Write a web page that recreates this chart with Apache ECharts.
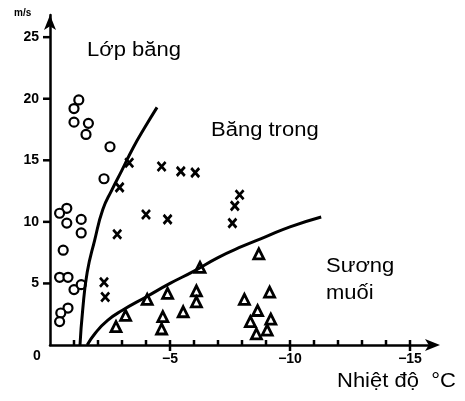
<!DOCTYPE html>
<html>
<head>
<meta charset="utf-8">
<script src="https://cdn.jsdelivr.net/npm/echarts@6/dist/echarts.min.js"></script>
<style>
    html, body {margin: 0; padding: 0; background: #fff;}
    #chart {width: 465px; height: 401px;}
</style>
</head>
<body>
<div id="chart"></div>
<script>
// [nhiệt độ °C, gió m/s]
var lopBang = [
    [-1.2, 19.9], [-1.0, 19.2], [-1.0, 18.1], [-1.6, 18.0], [-1.5, 17.1],
    [-2.5, 16.1], [-2.25, 13.5], [-0.7, 11.1], [-0.4, 10.7], [-0.7, 9.9],
    [-1.3, 10.2], [-1.3, 9.1], [-0.55, 7.7], [-0.4, 5.5], [-0.75, 5.5],
    [-1.0, 4.5], [-1.3, 4.9], [-0.75, 3.0], [-0.45, 2.6], [-0.4, 1.9]
];
var bangTrong = [
    [-3.3, 14.8], [-2.9, 12.8], [-4.65, 14.5], [-5.45, 14.1], [-6.05, 14.0],
    [-7.9, 12.2], [-7.7, 11.3], [-7.6, 9.9], [-4.0, 10.6], [-4.9, 10.2],
    [-2.8, 9.0], [-2.25, 5.1], [-2.3, 3.9]
];
var suongMuoi = [
    [-2.75, 1.5], [-3.15, 2.4], [-4.05, 3.7], [-4.9, 4.2], [-4.7, 2.3],
    [-4.65, 1.3], [-5.55, 2.7], [-6.25, 6.3], [-6.1, 4.4], [-6.1, 3.5],
    [-8.7, 7.4], [-8.1, 3.7], [-9.15, 4.3], [-8.65, 2.8], [-8.35, 1.9],
    [-9.2, 2.1], [-8.6, 0.9], [-9.05, 1.2]
];
var duongTren = [
    [-1.25, 0], [-1.36, 2.8], [-1.55, 5.9], [-1.86, 8.5], [-2.2, 11.0],
    [-2.58, 12.6], [-3.0, 14.2], [-3.46, 16.0], [-3.96, 17.7], [-4.46, 19.3]
];
var duongDuoi = [
    [-1.55, 0], [-1.9, 1.0], [-2.4, 2.0], [-3.0, 2.8], [-4.0, 3.9],
    [-5.0, 5.0], [-6.0, 6.0], [-7.0, 7.1], [-8.0, 8.0], [-9.0, 8.8],
    [-10.0, 9.6], [-11.3, 10.4]
];
var xMinorTicks = [-1, -2, -3, -4, -6, -7, -8, -9, -11, -12, -13, -14];
var xLabels = [-5, -10, -15];
var yLabels = [5, 10, 15, 20, 25];

var chart = echarts.init(document.getElementById('chart'));
var labelFont = 'Liberation Sans';
var textFont = '20px "Liberation Sans", Arial, sans-serif';

// vạch chia vẽ bằng ký hiệu hình chữ nhật nhỏ
function tickSeries(data, size, offset) {
    return {
        type: 'scatter',
        silent: true,
        clip: false,
        z: 5,
        symbol: 'rect',
        symbolSize: size,
        symbolOffset: offset,
        itemStyle: {color: '#000', opacity: 1},
        data: data
    };
}

var option = {
    backgroundColor: '#fff',
    animation: false,
    grid: {left: 50, right: 31, top: 15, bottom: 56},
    xAxis: {
        type: 'value',
        inverse: true,
        min: -16,
        max: 0,
        interval: 1,
        splitLine: {show: false},
        axisLine: {
            show: true,
            onZero: false,
            symbol: ['none', 'arrow'],
            symbolSize: [9, 15],
            symbolOffset: [0, 6],
            lineStyle: {color: '#000', width: 2.5}
        },
        axisTick: {show: false},
        axisLabel: {
            margin: 7,
            color: '#000',
            fontFamily: labelFont,
            fontWeight: 'bold',
            fontSize: 14,
            formatter: function (v) {
                return xLabels.indexOf(v) >= 0 ? '\u2212' + Math.abs(v) : '';
            }
        }
    },
    yAxis: {
        type: 'value',
        min: 0,
        max: 26.8,
        interval: 5,
        splitLine: {show: false},
        axisLine: {
            show: true,
            symbol: ['none', 'arrow'],
            symbolSize: [9, 15],
            lineStyle: {color: '#000', width: 2.5}
        },
        axisTick: {show: false},
        axisLabel: {
            margin: 11,
            color: '#000',
            fontFamily: labelFont,
            fontWeight: 'bold',
            fontSize: 14,
            formatter: function (v) {
                return yLabels.indexOf(v) >= 0 ? String(v) : '';
            }
        }
    },
    series: [
        tickSeries(xMinorTicks.map(function (v) { return [v, 0]; }), [2.5, 6], [0, -2]),
        tickSeries(xLabels.map(function (v) { return [v, 0]; }), [2.5, 11], [0, 0.5]),
        tickSeries(yLabels.map(function (v) { return [0, v]; }), [7, 2.5], [-3.5, 0]),
        {
            name: 'Lớp băng',
            type: 'scatter',
            symbol: 'circle',
            symbolSize: 9,
            itemStyle: {color: '#fff', borderColor: '#000', borderWidth: 2.2, opacity: 1},
            data: lopBang
        },
        {
            name: 'Băng trong',
            type: 'scatter',
            symbol: 'path://M0,0L10,11M10,0L0,11',
            symbolSize: [8, 9],
            itemStyle: {color: 'none', borderColor: '#000', borderWidth: 2.8, opacity: 1},
            data: bangTrong
        },
        {
            name: 'Sương muối',
            type: 'scatter',
            symbol: 'triangle',
            symbolSize: [10, 10],
            itemStyle: {color: '#fff', borderColor: '#000', borderWidth: 2.8, opacity: 1},
            data: suongMuoi
        },
        {
            type: 'line',
            smooth: true,
            showSymbol: false,
            silent: true,
            lineStyle: {color: '#000', width: 3},
            data: duongTren
        },
        {
            type: 'line',
            smooth: true,
            showSymbol: false,
            silent: true,
            lineStyle: {color: '#000', width: 3},
            data: duongDuoi
        }
    ],
    graphic: [
        {type: 'text', left: 14, top: 8, style: {text: 'm/s', font: 'bold 10px "Liberation Sans", Arial', fill: '#000'}},
        {type: 'text', left: 33, top: 349, style: {text: '0', font: 'bold 14px "Liberation Sans", Arial', fill: '#000'}},
        {type: 'text', left: 87, top: 40, scaleX: 1.1, style: {text: 'Lớp băng', font: textFont, fill: '#000'}},
        {type: 'text', left: 211, top: 120, scaleX: 1.1, style: {text: 'Băng trong', font: textFont, fill: '#000'}},
        {type: 'text', left: 326, top: 253, scaleX: 1.1, style: {text: 'Sương\nmuối', font: textFont, lineHeight: 27, fill: '#000'}},
        {type: 'text', left: 337, top: 371, scaleX: 1.1, style: {text: 'Nhiệt độ  \u00b0C', font: textFont, fill: '#000'}}
    ]
};
chart.setOption(option);
</script>
</body>
</html>
